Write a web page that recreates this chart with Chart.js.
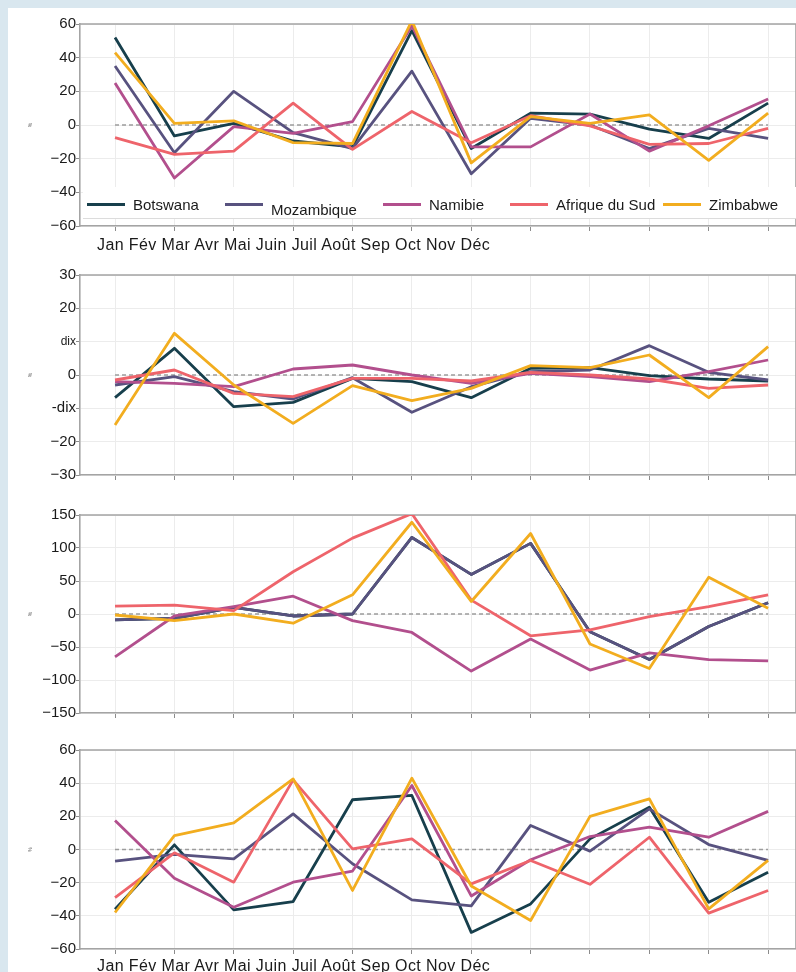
<!DOCTYPE html>
<html lang="fr">
<head>
<meta charset="utf-8">
<title>Écarts mensuels par pays</title>
<script src="https://cdn.jsdelivr.net/npm/chart.js@4.4.1/dist/chart.umd.min.js"></script>
<style>
  html, body { margin: 0; padding: 0; }
  body {
    width: 796px; height: 972px; overflow: hidden; position: relative;
    background: #d9e7ef;
    font-family: "Liberation Sans", Arial, sans-serif;
  }
  .panel { position: absolute; left: 8px; top: 8px; right: 0; bottom: 0; background: #fff; }
  .box { position: absolute; left: 8px; width: 788px; }
  .months {
    position: absolute; left: 97px; font-size: 16px; line-height: 16px; letter-spacing: 0.4px;
    color: #1a1a1a; white-space: nowrap;
  }
  .legend {
    position: absolute; left: 83px; top: 187px; width: 713px; height: 31px;
    background: #fff; border-bottom: 1px solid #dcdcdc; border-right: 1px solid #dcdcdc;
  }
  .legend .item { position: absolute; top: 0; height: 34px; display: flex; align-items: center; font-size: 15px; color: #1a1a1a; }
  .legend .swatch { width: 38px; height: 3px; margin-right: 8px; }
</style>
</head>
<body>
<div class="panel"></div>
<div class="box" style="top:14px;height:224px"><canvas id="c1"></canvas></div>
<div class="legend" id="legend"></div>
<div class="months" style="top:237px" id="m1"></div>
<div class="box" style="top:265px;height:222px"><canvas id="c2"></canvas></div>
<div class="box" style="top:505px;height:220px"><canvas id="c3"></canvas></div>
<div class="box" style="top:740px;height:221px"><canvas id="c4"></canvas></div>
<div class="months" style="top:958px" id="m2"></div>

<script>
// === data ===

const MONTHS = ["Jan", "Fév", "Mar", "Avr", "Mai", "Juin", "Juil", "Août", "Sep", "Oct", "Nov", "Déc"];
const COUNTRIES = ["Botswana", "Mozambique", "Namibie", "Afrique du Sud", "Zimbabwe"];
const COLORS = ["#173f4c", "#58527f", "#b24f8d", "#ee646b", "#f2ad1f"];

// panel 1
const BOTSWANA_1   = [52, -6.5, 1, -9.5, -13, 56, -14, 7, 6.5, -2.5, -8, 13];
const MOZAMBIQUE_1 = [35, -16.5, 20, -4.5, -14, 32, -29, 4, 0, -14, -2, -8];
const NAMIBIE_1    = [25, -31.5, -1, -5, 2, 59, -13, -13, 6.5, -15.5, -0.5, 15.5];
const AFRIQUE_1    = [-7.5, -17.5, -15.5, 13, -14.5, 8, -10.5, 5.5, -0.5, -11.5, -11, -2];
const ZIMBABWE_1   = [43, 1, 2.5, -10.5, -11, 62, -22.5, 5, 1, 6, -21, 7];

// panel 2
const BOTSWANA_2   = [-6.8, 8, -9.5, -8.2, -1, -2, -6.8, 2, 2.2, -0.2, -1.2, -1.8];
const MOZAMBIQUE_2 = [-3, -0.5, -5, -7.2, -0.8, -11.2, -3.5, 1, 1.5, 8.8, 0.8, -1.5];
const NAMIBIE_2    = [-2, -2.5, -3.5, 1.8, 3, 0, -2.5, 0.5, -0.5, -2, 1, 4.5];
const AFRIQUE_2    = [-1.5, 1.5, -5.5, -6.5, -1, -1, -1.8, 0.8, 0, -1.2, -4, -3];
const ZIMBABWE_2   = [-15, 12.5, -3, -14.5, -3.2, -7.7, -4, 2.8, 2.2, 6, -6.8, 8.5];

// panel 3 (Botswana sits under Mozambique here)
const BOTSWANA_3   = [-9, -6.5, 10, -3, 0, 116, 60, 107, -27, -69, -19, 17];
const MOZAMBIQUE_3 = [-9, -6.5, 10, -3, 0, 116, 60, 107, -27, -69, -19, 17];
const NAMIBIE_3    = [-65, -3, 11, 27, -10, -28, -86.5, -38, -85, -59, -69, -71];
const AFRIQUE_3    = [12, 13.5, 5, 64, 115, 152, 21, -33, -24, -4, 11, 29];
const ZIMBABWE_3   = [-1.5, -10, 0, -14, 29, 139, 19, 122, -45.5, -82.5, 55.6, 8.6];

// panel 4
const BOTSWANA_4   = [-36, 2.8, -36.4, -31.4, 30, 32.6, -50, -32.8, 6.4, 25.5, -31.8, -13.7];
const MOZAMBIQUE_4 = [-7, -3, -5.6, 21.5, -8.6, -30.4, -34, 14.5, -1, 24.5, 3, -6.6];
const NAMIBIE_4    = [17.5, -17.3, -34.8, -19.7, -13, 38.6, -28, -6.2, 7.8, 13.5, 7.4, 23];
const AFRIQUE_4    = [-29, -2, -19.7, 42, 0.4, 6.4, -20.7, -6.6, -21, 7.4, -38.4, -24.7];
const ZIMBABWE_4   = [-38, 8.4, 16, 42.6, -24.7, 43, -22, -42.8, 20, 30.5, -35.8, -6.6];

// y ticks (ascending) and their printed labels
const Y_TICKS_1 = [-60, -40, -20, 0, 20, 40, 60];
const Y_LABELS_1 = ["−60", "−40", "−20", "0", "20", "40", "60"];
const Y_TICKS_2 = [-30, -20, -10, 0, 10, 20, 30];
const Y_LABELS_2 = ["−30", "−20", "-dix", "0", "dix", "20", "30"];
const Y_TICKS_3 = [-150, -100, -50, 0, 50, 100, 150];
const Y_LABELS_3 = ["−150", "−100", "−50", "0", "50", "100", "150"];
const Y_TICKS_4 = [-60, -40, -20, 0, 20, 40, 60];
const Y_LABELS_4 = ["−60", "−40", "−20", "0", "20", "40", "60"];

// legend sample start (page x) and small vertical nudge of the label
const LEGEND_X = [87, 225, 383, 510, 663];
const LEGEND_DY = [0, 5, 0, 0, 0];

// === drawing ===

Chart.defaults.font.family = '"Liberation Sans", Arial, sans-serif';
Chart.defaults.color = "#1a1a1a";

const GRID = "#ececec";
const AXIS = "#a4a4a4";

// top + right edges of the plot frame
const framePlugin = {
  id: "frame",
  beforeDatasetsDraw(chart) {
    const { ctx, chartArea: a } = chart;
    ctx.save();
    ctx.strokeStyle = AXIS;
    ctx.lineWidth = 1.6;
    ctx.beginPath();
    ctx.moveTo(a.left, a.top);
    ctx.lineTo(a.right, a.top);
    ctx.lineTo(a.right, a.bottom);
    ctx.stroke();
    ctx.restore();
  },
};

function points(values) {
  return values.map((v, i) => ({ x: i, y: v }));
}

function makePanel(id, series, yTicks, yLabels) {
  const datasets = series.map((vals, i) => ({
    label: COUNTRIES[i],
    data: points(vals),
    borderColor: COLORS[i],
    borderWidth: 2.8,
    borderJoinStyle: "round",
    pointRadius: 0,
    tension: 0,
    order: series.length - i, // later countries drawn on top
  }));

  // dashed zero line
  datasets.push({
    label: "zéro",
    data: points(MONTHS.map(() => 0)),
    borderColor: "#9c9c9c",
    borderWidth: 1.3,
    borderDash: [4, 3],
    pointRadius: 0,
    order: 99,
  });

  new Chart(document.getElementById(id), {
    type: "line",
    data: { datasets },
    options: {
      responsive: true,
      maintainAspectRatio: false,
      animation: false,
      layout: { padding: { top: 10, right: 0, bottom: 0, left: 0 } },
      plugins: { legend: { display: false }, tooltip: { enabled: false } },
      scales: {
        x: {
          type: "linear",
          min: -0.59,
          max: 11.47,
          afterBuildTicks: s => { s.ticks = MONTHS.map((_, i) => ({ value: i })); },
          ticks: { callback: () => "", maxRotation: 0 },
          grid: { color: GRID, tickColor: "#8c8c8c", tickLength: 5 },
          border: { color: AXIS, width: 1.6 },
          afterFit: s => { s.height = 12; },
        },
        y: {
          min: yTicks[0],
          max: yTicks[yTicks.length - 1],
          afterBuildTicks: s => { s.ticks = yTicks.map(v => ({ value: v })); },
          ticks: {
            callback: (v, i) => yLabels[i],
            padding: 0,
            color: "#1a1a1a",
            font: c => ({ size: c.tick && c.tick.label === "dix" ? 12 : 15 }),
          },
          grid: { color: GRID, tickColor: "#8c8c8c", tickLength: 4 },
          border: { color: AXIS, width: 1.6 },
          title: { display: true, text: "%", font: { size: 5 }, color: "#444", padding: { top: 20, bottom: 0 } },
          afterFit: s => { s.width = 72; },
        },
      },
    },
    plugins: [framePlugin],
  });
}

makePanel("c1", [BOTSWANA_1, MOZAMBIQUE_1, NAMIBIE_1, AFRIQUE_1, ZIMBABWE_1], Y_TICKS_1, Y_LABELS_1);
makePanel("c2", [BOTSWANA_2, MOZAMBIQUE_2, NAMIBIE_2, AFRIQUE_2, ZIMBABWE_2], Y_TICKS_2, Y_LABELS_2);
makePanel("c3", [BOTSWANA_3, MOZAMBIQUE_3, NAMIBIE_3, AFRIQUE_3, ZIMBABWE_3], Y_TICKS_3, Y_LABELS_3);
makePanel("c4", [BOTSWANA_4, MOZAMBIQUE_4, NAMIBIE_4, AFRIQUE_4, ZIMBABWE_4], Y_TICKS_4, Y_LABELS_4);

// month names written once under the first and last panel
document.getElementById("m1").textContent = MONTHS.join(" ");
document.getElementById("m2").textContent = MONTHS.join(" ");

// legend over the bottom of panel 1
const legend = document.getElementById("legend");
COUNTRIES.forEach((name, i) => {
  const item = document.createElement("div");
  item.className = "item";
  item.style.left = (LEGEND_X[i] - 83) + "px";
  const sw = document.createElement("span");
  sw.className = "swatch";
  sw.style.background = COLORS[i];
  const txt = document.createElement("span");
  txt.textContent = name;
  txt.style.position = "relative";
  txt.style.top = LEGEND_DY[i] + "px";
  item.append(sw, txt);
  legend.appendChild(item);
});
</script>
</body>
</html>
